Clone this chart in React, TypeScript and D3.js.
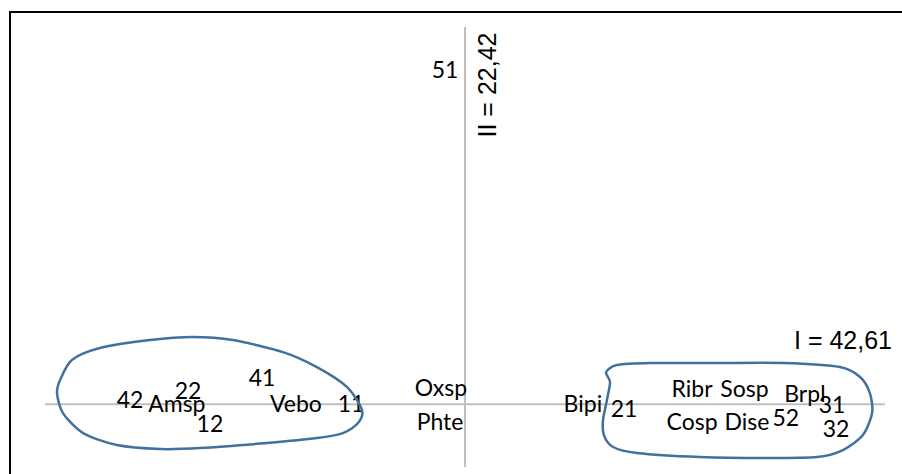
import React from "react";
import * as d3 from "d3";

// Point labels (names) and their coordinates on axes I and II
const labels = ["51", "42", "22", "Amsp", "12", "41", "Vebo", "11", "Oxsp", "Phte", "Bipi", "21", "Ribr", "Sosp", "Cosp", "Dise", "52", "Brpl", "31", "32"];
const axisI = [-0.071, -1.196, -0.989, -1.029, -0.911, -0.725, -0.604, -0.407, -0.086, -0.089, 0.421, 0.568, 0.811, 0.998, 0.811, 1.007, 1.146, 1.214, 1.311, 1.325];
const axisII = [2.66, 0.033, 0.104, 0.0, -0.158, 0.208, 0.0, 0.0, 0.128, -0.142, 0.0, -0.039, 0.12, 0.12, -0.142, -0.142, -0.111, 0.08, -0.007, -0.198];

// Hand-drawn group outlines (in axis coordinates)
const leftGroupX = [-1.446, -1.404, -1.304, -1.125, -0.971, -0.829, -0.65, -0.529, -0.421, -0.368, -0.382, -0.436, -0.529, -0.707, -0.946, -1.089, -1.243, -1.364, -1.436, -1.457];
const leftGroupY = [0.192, 0.351, 0.446, 0.51, 0.534, 0.51, 0.414, 0.295, 0.136, -0.047, -0.15, -0.23, -0.27, -0.309, -0.349, -0.357, -0.325, -0.23, -0.071, 0.088];
const rightGroupX = [0.504, 0.518, 0.507, 0.493, 0.496, 0.529, 0.614, 0.839, 1.079, 1.257, 1.35, 1.421, 1.454, 1.446, 1.411, 1.339, 1.136, 0.9, 0.661, 0.543];
const rightGroupY = [0.255, 0.176, 0.033, -0.126, -0.246, -0.341, -0.389, -0.421, -0.429, -0.421, -0.365, -0.246, -0.071, 0.088, 0.216, 0.295, 0.327, 0.327, 0.327, 0.311];

const axisTitleI = "I = 42,61";
const axisTitleII = "II = 22,42";

const xDomain = [-1.5, 1.5];
const yDomain = [-0.5, 3.0];

export default function App() {
  const W = 902;
  const H = 474;
  const x = d3.scaleLinear().domain(xDomain).range([45, 885]);
  const y = d3.scaleLinear().domain(yDomain).range([467, 27]);

  const blob = d3
    .line<[number, number]>()
    .x((d) => x(d[0]))
    .y((d) => y(d[1]))
    .curve(d3.curveCardinalClosed.tension(0.2));

  const leftPts: [number, number][] = leftGroupX.map((v, i) => [v, leftGroupY[i]]);
  const rightPts: [number, number][] = rightGroupX.map((v, i) => [v, rightGroupY[i]]);

  return (
    <svg
      width={W}
      height={H}
      style={{ position: "absolute", left: 0, top: 0, background: "#fff" }}
    >
      <rect x={0} y={0} width={W} height={H} fill="#fff" />
      <rect x={10} y={12} width={920} height={500} fill="none" stroke="#000" strokeWidth={2} />
      {/* axes */}
      <line x1={x(xDomain[0])} x2={x(xDomain[1])} y1={y(0)} y2={y(0)} stroke="#BFBFBF" strokeWidth={2} />
      <line x1={x(0)} x2={x(0)} y1={y(yDomain[0])} y2={y(yDomain[1])} stroke="#BFBFBF" strokeWidth={2} />
      {/* labels */}
      <g fontFamily="Lato, 'Open Sans', sans-serif" fontSize={23} fill="#000">
        {labels.map((l, i) => (
          <text key={i} x={x(axisI[i])} y={y(axisII[i])} dy="0.36em" textAnchor="middle">
            {l}
          </text>
        ))}
      </g>
      {/* group outlines */}
      <path d={blob(leftPts) || ""} fill="none" stroke="#41719C" strokeWidth={2.5} />
      <path d={blob(rightPts) || ""} fill="none" stroke="#41719C" strokeWidth={2.5} />
      {/* axis titles */}
      <g fontFamily="'Liberation Sans', Arial, sans-serif" fontSize={25} fill="#000">
        <text x={843} y={349} textAnchor="middle">{axisTitleI}</text>
        <text transform={`translate(496,85) rotate(-90)`} textAnchor="middle">{axisTitleII}</text>
      </g>
    </svg>
  );
}
